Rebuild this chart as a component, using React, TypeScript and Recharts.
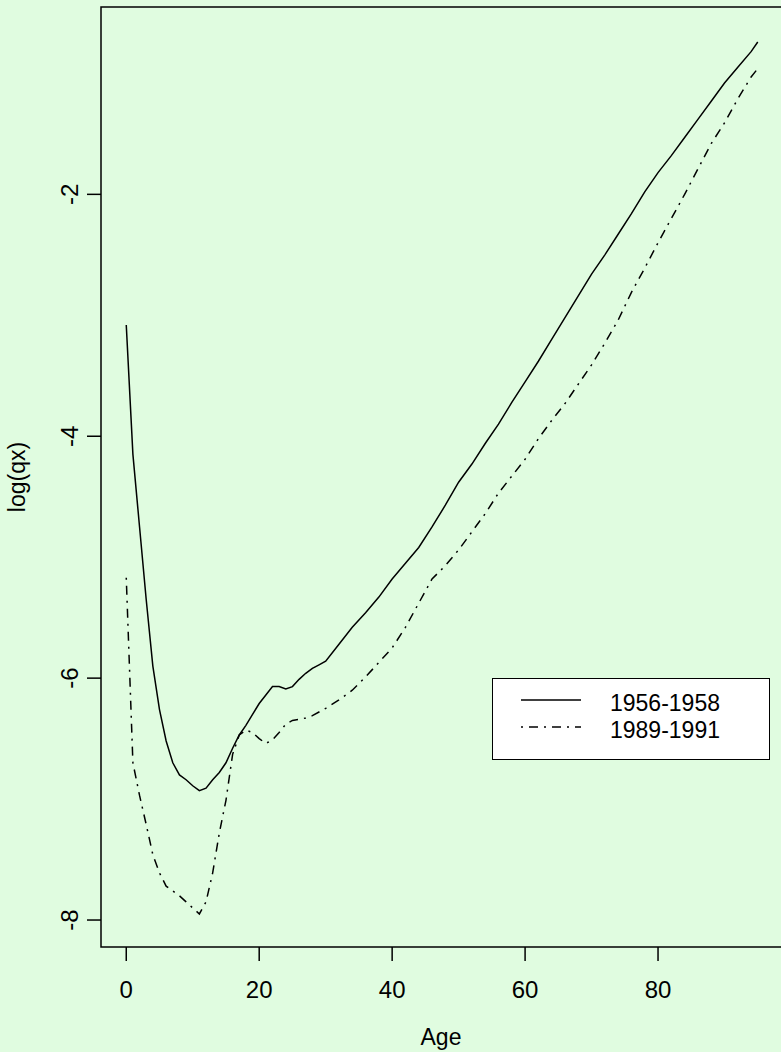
import React from 'react'
import {
  LineChart,
  Line,
  XAxis,
  YAxis,
  ReferenceArea,
} from 'recharts'

// ages (yearly to 30, then every 2 years)
const ages = [
  0, 1, 2, 3, 4, 5, 6, 7, 8, 9, 10, 11, 12, 13, 14, 15, 16, 17, 18, 19, 20,
  21, 22, 23, 24, 25, 26, 27, 28, 29, 30, 32, 34, 36, 38, 40, 42, 44, 46, 48,
  50, 52, 54, 56, 58, 60, 62, 64, 66, 68, 70, 72, 74, 76, 78, 80, 82, 84, 86,
  88, 90, 92, 94, 95,
]

const q1956 = [
  -3.08, -4.15, -4.75, -5.35, -5.9, -6.26, -6.52, -6.7, -6.8, -6.84, -6.89,
  -6.93, -6.91, -6.84, -6.78, -6.7, -6.58, -6.47, -6.39, -6.3, -6.21, -6.14,
  -6.07, -6.07, -6.09, -6.07, -6.01, -5.96, -5.92, -5.89, -5.86, -5.72, -5.58,
  -5.46, -5.33, -5.18, -5.05, -4.92, -4.75, -4.57, -4.38, -4.23, -4.06, -3.9,
  -3.72, -3.55, -3.38, -3.2, -3.02, -2.84, -2.66, -2.5, -2.33, -2.16, -1.98,
  -1.82, -1.68, -1.53, -1.38, -1.23, -1.08, -0.95, -0.82, -0.74,
]

const q1989 = [
  -5.17, -6.7, -6.97, -7.21, -7.46, -7.61, -7.72, -7.76, -7.8, -7.85, -7.9,
  -7.95, -7.85, -7.61, -7.28, -7.01, -6.63, -6.47, -6.43, -6.45, -6.5, -6.54,
  -6.51, -6.45, -6.38, -6.35, -6.34, -6.33, -6.31, -6.28, -6.25, -6.18, -6.1,
  -5.99, -5.87, -5.75, -5.58, -5.38, -5.18, -5.07, -4.94, -4.79, -4.64, -4.47,
  -4.33, -4.19, -4.02, -3.87, -3.73, -3.57, -3.41, -3.23, -3.04, -2.81, -2.61,
  -2.4, -2.2, -2.0, -1.79, -1.58, -1.41, -1.21, -1.03, -0.96,
]

const xTicks = [0, 20, 40, 60, 80]
const yTicks = [-8, -6, -4, -2]
const seriesNames = ['1956-1958', '1989-1991']

const X_DOMAIN: [number, number] = [-3.8, 98.8]
const Y_DOMAIN: [number, number] = [-8.223, -0.451]

const BG = '#e0fce0'
const FONT = '"Liberation Sans", Arial, Helvetica, sans-serif'
const DOTDASH = '2 6 9 6'

const data = ages.map((age, i) => ({
  age,
  a: q1956[i],
  b: q1989[i],
}))

function YTick(props: any) {
  const { x, y, payload } = props
  return (
    <text
      x={x}
      y={y}
      transform={`rotate(-90, ${x}, ${y})`}
      textAnchor="middle"
      fontSize={24}
      fontFamily={FONT}
      fill="#000"
    >
      {payload.value}
    </text>
  )
}

function LegendBox() {
  return (
    <div
      style={{
        position: 'absolute',
        left: 492,
        top: 678,
        width: 278,
        height: 82,
        background: '#fff',
        border: '1.5px solid #000',
        boxSizing: 'border-box',
        fontFamily: FONT,
        fontSize: 23,
      }}
    >
      {seriesNames.map((name, i) => (
        <div
          key={name}
          style={{
            position: 'absolute',
            left: 27,
            top: 11 + i * 27,
            display: 'flex',
            alignItems: 'center',
            height: 26,
          }}
        >
          <svg width={62} height={6} style={{ marginTop: -6 }}>
            <line
              x1={1}
              x2={61}
              y1={3}
              y2={3}
              stroke="#000"
              strokeWidth={1.5}
              strokeDasharray={i === 1 ? DOTDASH : undefined}
            />
          </svg>
          <span style={{ marginLeft: 28, lineHeight: '26px' }}>{name}</span>
        </div>
      ))}
    </div>
  )
}

export default function App() {
  return (
    <div
      style={{
        position: 'absolute',
        left: 0,
        top: 0,
        width: 781,
        height: 1052,
        overflow: 'hidden',
        background: BG,
      }}
    >
      <LineChart
        width={783}
        height={1052}
        data={data}
        margin={{ top: 7, right: 0, left: 0, bottom: 0 }}
      >
        <ReferenceArea
          x1={X_DOMAIN[0]}
          x2={X_DOMAIN[1]}
          y1={Y_DOMAIN[0]}
          y2={Y_DOMAIN[1]}
          fill="none"
          stroke="#000"
          strokeWidth={1.5}
          ifOverflow="visible"
        />
        <XAxis
          dataKey="age"
          type="number"
          domain={X_DOMAIN}
          ticks={xTicks}
          allowDataOverflow
          height={105}
          axisLine={false}
          tickSize={14}
          tickMargin={20}
          tickLine={{ stroke: '#000', strokeWidth: 1.5 }}
          tick={{ fill: '#000', fontSize: 24, fontFamily: FONT }}
        />
        <YAxis
          type="number"
          domain={Y_DOMAIN}
          ticks={yTicks}
          allowDataOverflow
          width={101}
          axisLine={false}
          tickSize={14}
          tickMargin={9}
          tickLine={{ stroke: '#000', strokeWidth: 1.5 }}
          tick={<YTick />}
        />
        <Line
          type="linear"
          dataKey="a"
          name={seriesNames[0]}
          stroke="#000"
          strokeWidth={1.5}
          dot={false}
          isAnimationActive={false}
        />
        <Line
          type="linear"
          dataKey="b"
          name={seriesNames[1]}
          stroke="#000"
          strokeWidth={1.5}
          strokeDasharray={DOTDASH}
          dot={false}
          isAnimationActive={false}
        />
      </LineChart>
      <LegendBox />
      <div
        style={{
          position: 'absolute',
          left: 441,
          top: 1037,
          transform: 'translate(-50%, -50%)',
          fontFamily: FONT,
          fontSize: 23,
          whiteSpace: 'nowrap',
        }}
      >
        Age
      </div>
      <div
        style={{
          position: 'absolute',
          left: 17,
          top: 477,
          transform: 'translate(-50%, -50%) rotate(-90deg)',
          fontFamily: FONT,
          fontSize: 23,
          whiteSpace: 'nowrap',
        }}
      >
        log(qx)
      </div>
    </div>
  )
}
